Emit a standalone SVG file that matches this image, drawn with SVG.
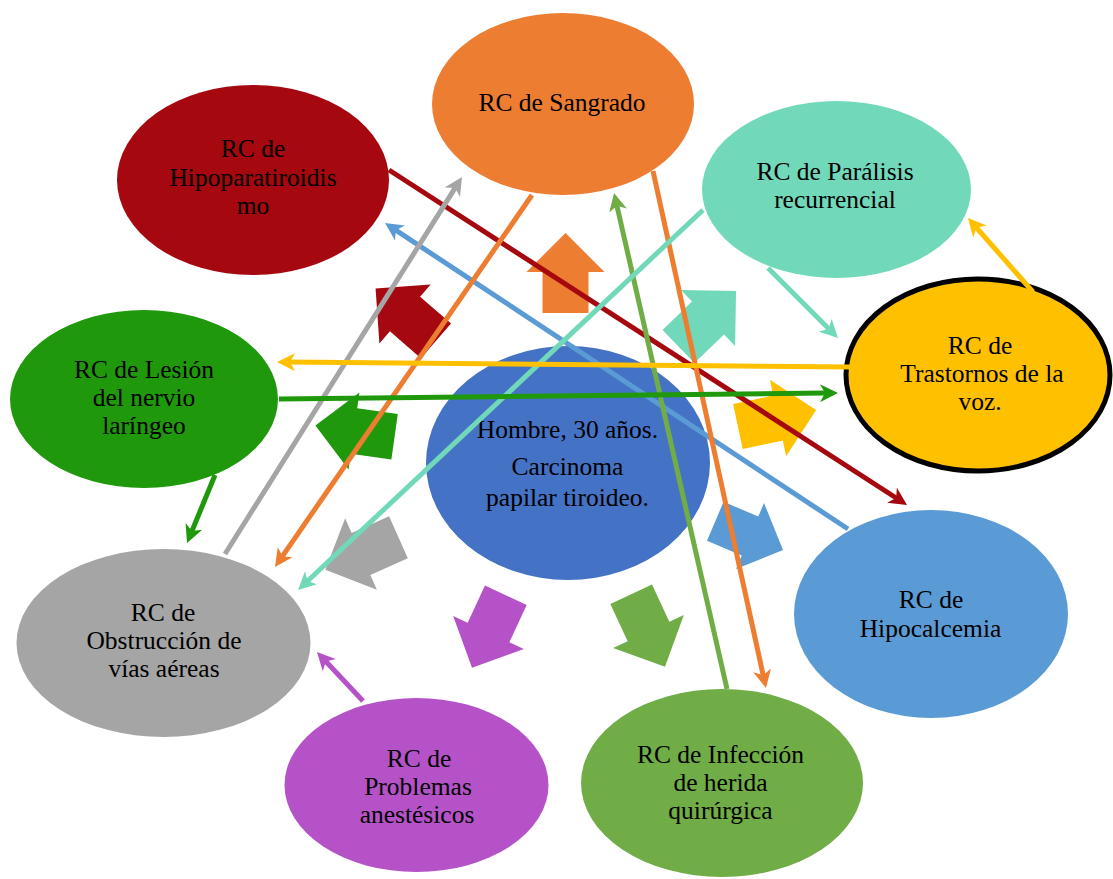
<svg xmlns="http://www.w3.org/2000/svg" width="1113" height="879" viewBox="0 0 1113 879">
<style>
.lbl{font-family:"Liberation Serif","Times New Roman",serif;font-size:25.5px;fill:#000;text-anchor:middle}
.cn{fill:none;stroke-width:5}
</style>
<defs>
<path id="blk" d="M-41,-23 H0 V-39 L39,0 L0,39 V23 H-41 Z"/>
<marker id="m-red" viewBox="0 0 18 18" markerUnits="userSpaceOnUse" markerWidth="18" markerHeight="18" refX="6" refY="9" orient="auto"><path d="M0,0 L18,9 L0,18 L5,9 Z" fill="#A5080E"/></marker>
<marker id="m-blue" viewBox="0 0 18 18" markerUnits="userSpaceOnUse" markerWidth="18" markerHeight="18" refX="6" refY="9" orient="auto"><path d="M0,0 L18,9 L0,18 L5,9 Z" fill="#5B9BD5"/></marker>
<marker id="m-gray" viewBox="0 0 18 18" markerUnits="userSpaceOnUse" markerWidth="18" markerHeight="18" refX="6" refY="9" orient="auto"><path d="M0,0 L18,9 L0,18 L5,9 Z" fill="#A5A5A5"/></marker>
<marker id="m-orange" viewBox="0 0 18 18" markerUnits="userSpaceOnUse" markerWidth="18" markerHeight="18" refX="6" refY="9" orient="auto"><path d="M0,0 L18,9 L0,18 L5,9 Z" fill="#ED7D31"/></marker>
<marker id="m-lgreen" viewBox="0 0 18 18" markerUnits="userSpaceOnUse" markerWidth="18" markerHeight="18" refX="6" refY="9" orient="auto"><path d="M0,0 L18,9 L0,18 L5,9 Z" fill="#70AD47"/></marker>
<marker id="m-teal" viewBox="0 0 18 18" markerUnits="userSpaceOnUse" markerWidth="18" markerHeight="18" refX="6" refY="9" orient="auto"><path d="M0,0 L18,9 L0,18 L5,9 Z" fill="#71D9BA"/></marker>
<marker id="m-gold" viewBox="0 0 18 18" markerUnits="userSpaceOnUse" markerWidth="18" markerHeight="18" refX="6" refY="9" orient="auto"><path d="M0,0 L18,9 L0,18 L5,9 Z" fill="#FFC000"/></marker>
<marker id="m-dgreen" viewBox="0 0 18 18" markerUnits="userSpaceOnUse" markerWidth="18" markerHeight="18" refX="6" refY="9" orient="auto"><path d="M0,0 L18,9 L0,18 L5,9 Z" fill="#1F990B"/></marker>
<marker id="m-purple" viewBox="0 0 18 18" markerUnits="userSpaceOnUse" markerWidth="18" markerHeight="18" refX="6" refY="9" orient="auto"><path d="M0,0 L18,9 L0,18 L5,9 Z" fill="#B652C8"/></marker>
</defs>
<rect width="1113" height="879" fill="#fff"/>

<g id="block-arrows">
<use href="#blk" fill="#ED7D31" transform="translate(565.5,272) rotate(-90)"/>
<use href="#blk" fill="#A5080E" transform="translate(405,314) rotate(-139)"/>
<use href="#blk" fill="#71D9BA" transform="translate(708,318) rotate(-44)"/>
<use href="#blk" fill="#FFC000" transform="translate(778,418) rotate(-12)"/>
<use href="#blk" fill="#1F990B" transform="translate(354,431) rotate(188)"/>
<use href="#blk" fill="#A5A5A5" transform="translate(361,554) rotate(156)"/>
<use href="#blk" fill="#B652C8" transform="translate(488.5,632.5) rotate(115)"/>
<use href="#blk" fill="#70AD47" transform="translate(648.5,631.5) rotate(65)"/>
<use href="#blk" fill="#5B9BD5" transform="translate(750,536) rotate(23) scale(0.92)"/>
</g>

<g id="node-sangrado">
<ellipse cx="563" cy="104" rx="131" ry="91" fill="#ED7D31"/>
<text class="lbl" x="562" y="111">RC de Sangrado</text>
</g>
<g id="node-hipoparatiroidismo">
<ellipse cx="253" cy="180" rx="136" ry="95" fill="#A5080E"/>
<text class="lbl" x="253" y="157">RC de</text>
<text class="lbl" x="253" y="186">Hipoparatiroidis</text>
<text class="lbl" x="253" y="214">mo</text>
</g>
<g id="node-paralisis">
<ellipse cx="836.5" cy="189.5" rx="134.5" ry="88.5" fill="#71D9BA"/>
<text class="lbl" x="835" y="180">RC de Parálisis</text>
<text class="lbl" x="835" y="208">recurrencial</text>
</g>
<g id="node-trastornos">
<ellipse cx="978" cy="375" rx="132" ry="96" fill="#FFC000" stroke="#000" stroke-width="5"/>
<text class="lbl" x="980" y="354">RC de</text>
<text class="lbl" x="982" y="382">Trastornos de la</text>
<text class="lbl" x="980" y="410">voz.</text>
</g>
<g id="node-lesion">
<ellipse cx="144" cy="399" rx="134" ry="89" fill="#1F990B"/>
<text class="lbl" x="144" y="378">RC de Lesión</text>
<text class="lbl" x="144" y="406">del nervio</text>
<text class="lbl" x="144" y="434">laríngeo</text>
</g>
<g id="node-hub">
<ellipse cx="568" cy="463" rx="142" ry="117" fill="#4472C4"/>
<text class="lbl" x="567.5" y="438">Hombre, 30 años.</text>
<text class="lbl" x="567.5" y="475">Carcinoma</text>
<text class="lbl" x="567.5" y="506">papilar tiroideo.</text>
</g>
<g id="node-obstruccion">
<ellipse cx="163.5" cy="643" rx="147" ry="94" fill="#A5A5A5"/>
<text class="lbl" x="163" y="621">RC de</text>
<text class="lbl" x="164" y="649">Obstrucción de</text>
<text class="lbl" x="164" y="677">vías aéreas</text>
</g>
<g id="node-hipocalcemia">
<ellipse cx="931" cy="614" rx="137" ry="104" fill="#5B9BD5"/>
<text class="lbl" x="931" y="608">RC de</text>
<text class="lbl" x="930.5" y="637">Hipocalcemia</text>
</g>
<g id="node-problemas">
<ellipse cx="416.5" cy="785" rx="132" ry="87" fill="#B652C8"/>
<text class="lbl" x="419" y="767">RC de</text>
<text class="lbl" x="418" y="795">Problemas</text>
<text class="lbl" x="417" y="823">anestésicos</text>
</g>
<g id="node-infeccion">
<ellipse cx="722" cy="783" rx="141" ry="94" fill="#70AD47"/>
<text class="lbl" x="720.5" y="763">RC de Infección</text>
<text class="lbl" x="720.5" y="791">de herida</text>
<text class="lbl" x="720.5" y="819">quirúrgica</text>
</g>

<g id="connectors">
<line class="cn" stroke="#A5080E" x1="389" y1="170" x2="897" y2="498.5" marker-end="url(#m-red)"/>
<line class="cn" stroke="#5B9BD5" x1="848" y1="529" x2="395" y2="229.6" marker-end="url(#m-blue)"/>
<line class="cn" stroke="#A5A5A5" x1="225" y1="554" x2="455.6" y2="187.1" marker-end="url(#m-gray)"/>
<line class="cn" stroke="#ED7D31" x1="532" y1="195" x2="281.8" y2="557.1" marker-end="url(#m-orange)"/>
<line class="cn" stroke="#ED7D31" x1="653" y1="171" x2="763.4" y2="676.3" marker-end="url(#m-orange)"/>
<line class="cn" stroke="#70AD47" x1="727" y1="689" x2="616.7" y2="204.7" marker-end="url(#m-lgreen)"/>
<line class="cn" stroke="#71D9BA" x1="703" y1="210" x2="306.8" y2="581.8" marker-end="url(#m-teal)"/>
<line class="cn" stroke="#71D9BA" x1="768" y1="268" x2="829.5" y2="329.5" marker-end="url(#m-teal)"/>
<line class="cn" stroke="#FFC000" x1="850" y1="367" x2="289" y2="362.1" marker-end="url(#m-gold)"/>
<line class="cn" stroke="#FFC000" x1="1033" y1="292" x2="975.9" y2="227" marker-end="url(#m-gold)"/>
<line class="cn" stroke="#1F990B" x1="279" y1="399" x2="826" y2="393.1" marker-end="url(#m-dgreen)"/>
<line class="cn" stroke="#1F990B" x1="215" y1="475" x2="191.6" y2="531.9" marker-end="url(#m-dgreen)"/>
<line class="cn" stroke="#B652C8" x1="363" y1="701" x2="325.2" y2="660.8" marker-end="url(#m-purple)"/>
</g>
</svg>
